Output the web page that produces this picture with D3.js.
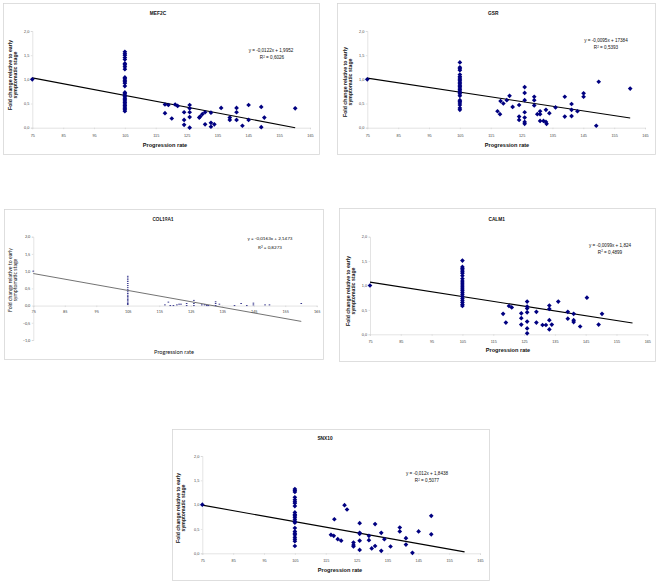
<!DOCTYPE html>
<html>
<head>
<meta charset="utf-8">
<script src="https://cdn.jsdelivr.net/npm/d3@7"></script>
<style>
  body { margin: 0; background: #fff; }
  svg { display: block; }
</style>
</head>
<body>
<svg id="chart" width="660" height="583"></svg>
<script>
// tick values shared by the panels
const xTicks = [75, 85, 95, 105, 115, 125, 135, 145, 155, 165];
const yTicks = [0, 0.5, 1, 1.5, 2];
const yTicksCol = [-1, -0.5, 0, 0.5, 1, 1.5, 2];

// MEF2C
const mef2cColumn = [1.57, 1.53, 1.50, 1.45, 1.41, 1.33, 1.30, 1.26, 1.21, 1.04, 1.01, 0.98, 0.95, 0.92, 0.86,
  0.73, 0.70, 0.67, 0.64, 0.61, 0.58, 0.55, 0.52, 0.49, 0.46, 0.43, 0.40, 0.37, 0.34];
const mef2cPoints = [[75, 1.0], [118, 0.48], [118, 0.30], [119.1, 0.47], [120.2, 0.19], [121.3, 0.48], [122.1, 0.45],
  [124.2, 0.32], [124.2, 0.16], [124.2, 0.06], [126, 0.47], [126, 0.40], [126, 0.32], [126, 0.22], [126, 0.0],
  [129.1, 0.21], [129.4, 0.23], [130.1, 0.28], [131, 0.32], [131, 0.07], [132.9, 0.31], [132.9, 0.10], [132.9, 0.02],
  [134, 0.07], [136.2, 0.41], [139, 0.21], [139, 0.16], [141.2, 0.41], [141.2, 0.32], [141.2, 0.16], [143.1, 0.04],
  [145.1, 0.47], [145.1, 0.16], [149.2, 0.43], [149.2, 0.01], [150.2, 0.21], [160.2, 0.40]];
const mef2cTrend = [[75, 1.03], [160.2, 0.0]];

// GSR
const gsrColumn = [1.35, 1.25, 1.22, 1.19, 1.10, 1.06, 1.03, 1.00, 0.97, 0.94, 0.91, 0.88, 0.85, 0.82, 0.79,
  0.76, 0.73, 0.70, 0.66, 0.57, 0.54, 0.51, 0.47, 0.41, 0.37];
const gsrPoints = [[75, 1.0], [117.2, 0.34], [118, 0.28], [118.2, 0.55], [119.1, 0.50], [120.2, 0.57], [121.1, 0.66],
  [122.1, 0.43], [124.2, 0.47], [124.2, 0.23], [124.2, 0.16], [126, 0.84], [126, 0.72], [126, 0.57], [126, 0.32],
  [126, 0.21], [126, 0.12], [126, 0.08], [129.1, 0.64], [129.1, 0.57], [129.1, 0.46], [130.1, 0.28], [131, 0.34],
  [131, 0.28], [131, 0.14], [132.1, 0.14], [132.9, 0.37], [132.9, 0.12], [133.1, 0.08], [134, 0.30], [136, 0.42],
  [139, 0.64], [139, 0.23], [141.2, 0.49], [141.2, 0.37], [141.2, 0.24], [143.1, 0.34], [145.1, 0.71], [145.1, 0.64],
  [149.2, 0.04], [150, 0.95], [160.2, 0.81]];
const gsrTrend = [[75, 1.026], [160.2, 0.2]];

// COL19A1
const colColumn = [0.85, 0.80, 0.75, 0.70, 0.64, 0.58, 0.52, 0.46, 0.40, 0.35, 0.30, 0.26, 0.22, 0.18, 0.14,
  0.10, 0.06, 0.03];
const colPoints = [[75, 1.0], [116.8, 0.02], [117.9, 0.10], [118.5, 0], [119.5, 0], [120.6, 0.02], [121.3, 0.04],
  [121.9, 0.04], [123.7, 0.06], [123.7, 0], [126, 0.15], [126, 0.06], [126, 0], [128.5, 0.02], [129.4, 0.02],
  [130.1, 0], [130.6, 0], [132.9, 0.11], [132.9, 0.06], [132.9, 0], [134.1, 0.04], [138.9, 0], [141, 0.06],
  [142.8, 0], [144.9, 0.07], [144.9, 0.02], [148.6, 0.02], [150, 0.02], [160.1, 0.06]];
const colTrend = [[75, 0.93], [160.1, -0.46]];

// CALM1
const calm1Column = [1.51, 1.38, 1.35, 1.32, 1.28, 1.25, 1.20, 1.14, 1.09, 1.05, 1.01, 0.97, 0.93, 0.89, 0.85,
  0.81, 0.77, 0.73, 0.69, 0.65, 0.61, 0.58];
const calm1Points = [[75, 1.0], [118.2, 0.42], [119.1, 0.24], [120.1, 0.58], [121, 0.55], [124.1, 0.43], [124.1, 0.33],
  [124.1, 0.20], [126, 0.67], [126, 0.57], [126, 0.53], [126, 0.45], [126, 0.26], [126, 0.12], [126, 0.02],
  [129, 0.46], [129, 0.24], [131, 0.19], [132.1, 0.19], [133.2, 0.59], [133.2, 0.52], [133.2, 0.29], [133.2, 0.10],
  [134, 0.20], [136.1, 0.67], [139.2, 0.46], [139.2, 0.32], [141.1, 0.42], [141.1, 0.29], [141.1, 0.25],
  [143.2, 0.16], [145.4, 0.75], [149.2, 0.20], [150.3, 0.42]];
const calm1Trend = [[75, 1.07], [160.2, 0.23]];

// SNX10
const snx10Column = [1.32, 1.29, 1.26, 1.15, 1.10, 1.06, 1.03, 0.97, 0.84, 0.80, 0.77, 0.74, 0.70, 0.66, 0.63,
  0.52, 0.45, 0.41, 0.38, 0.33, 0.29, 0.25, 0.15];
const snx10Points = [[75, 1.0], [116.7, 0.38], [117.6, 0.36], [117.8, 0.70], [118.9, 0.29], [120, 0.26], [121.1, 0.99],
  [121.9, 0.90], [124, 0.22], [124, 0.17], [124, 0.14], [126, 0.62], [126, 0.42], [126, 0.40], [126, 0.26],
  [126, 0.07], [129, 0.36], [129, 0.27], [129.9, 0.10], [131, 0.60], [131, 0.15], [133, 0.42], [133, 0.05],
  [134, 0.29], [136, 0.14], [139, 0.53], [139, 0.45], [141, 0.31], [141, 0.18], [143.1, 0.01], [145.1, 0.45],
  [149.2, 0.77], [149.2, 0.39]];
const snx10Trend = [[75, 0.99], [160, 0.03]];

const arial = "'Liberation Sans', Arial, sans-serif";
const calibri = "Lato, 'Open Sans', sans-serif";

const panels = [
  { title: 'MEF2C', column: mef2cColumn, points: mef2cPoints, trend: mef2cTrend, yt: yTicks,
    eq: 'y = -0,0122x + 1,9952', r2: '0,6026', font: arial,
    box: [3, 3, 319, 154], x: [32.3, 310], y: [127.7, 31], titleXY: [158, 15],
    eqXY: [271, 52], r2XY: [272, 59], xTitleXY: [165, 146.5], yLab: [10, 15.5, 75], xTickY: 137 },
  { title: 'GSR', column: gsrColumn, points: gsrPoints, trend: gsrTrend, yt: yTicks,
    eq: 'y = -0,0095x + 17384', r2: '0,5393', font: arial,
    box: [337, 3, 655, 154], x: [367.3, 645], y: [127.7, 31], titleXY: [493.3, 15],
    eqXY: [606, 42], r2XY: [606, 49], xTitleXY: [507, 146.5], yLab: [345, 350.5, 82], xTickY: 137 },
  { title: 'COL19A1', column: colColumn, points: colPoints, trend: colTrend, yt: yTicksCol,
    eq: 'y = -0,0163x + 2,1473', r2: '0,8273', font: calibri, small: true,
    box: [4, 209, 323, 359], x: [33.3, 316.7], y: [340, 236.7], titleXY: [163, 221],
    eqXY: [270, 240], r2XY: [270, 249], xTitleXY: [174, 353.5], yLab: [10, 15, 280], xTickY: 313.5 },
  { title: 'CALM1', column: calm1Column, points: calm1Points, trend: calm1Trend, yt: yTicks,
    eq: 'y = -0,0099x + 1,824', r2: '0,4899', font: arial,
    box: [339, 208, 655, 361], x: [370, 647.3], y: [334.3, 236.7], titleXY: [496.7, 221],
    eqXY: [610, 246.5], r2XY: [610, 253.5], xTitleXY: [508, 352], yLab: [348, 353.5, 291], xTickY: 343.5 },
  { title: 'SNX10', column: snx10Column, points: snx10Points, trend: snx10Trend, yt: yTicks,
    eq: 'y = -0,012x + 1,8438', r2: '0,5077', font: arial,
    box: [172, 429, 489, 580], x: [202.3, 480], y: [553.3, 456], titleXY: [325, 440],
    eqXY: [427, 475], r2XY: [427, 482], xTitleXY: [340, 572], yLab: [178.3, 183.8, 508], xTickY: 562 }
];

const svg = d3.select('#chart');
const fmt = v => d3.format('.1f')(v).replace('.', ',');

panels.forEach(p => {
  const g = svg.append('g').style('font-family', p.font);
  const [bx0, by0, bx1, by1] = p.box;

  g.append('rect')
    .attr('x', bx0 + 0.5).attr('y', by0 + 0.5)
    .attr('width', bx1 - bx0).attr('height', by1 - by0)
    .attr('fill', '#fff').attr('stroke', '#d6d6d6').attr('stroke-width', 0.8);

  const x = d3.scaleLinear().domain([75, 165]).range(p.x);
  const y = d3.scaleLinear().domain([d3.min(p.yt), 2]).range(p.y);

  // axes
  const yAxis = g.append('g')
    .attr('transform', `translate(${p.x[0]},0)`)
    .call(d3.axisLeft(y).tickValues(p.yt).tickFormat(fmt).tickSize(1.5).tickPadding(1.5));
  const xAxis = g.append('g')
    .attr('transform', `translate(0,${y(0)})`)
    .call(d3.axisBottom(x).tickValues(xTicks).tickFormat(d3.format('d')).tickSize(1.5).tickPadding(1.5));

  [xAxis, yAxis].forEach(a => {
    a.select('.domain').attr('stroke', '#d0d0d0').attr('stroke-width', 0.6);
    a.selectAll('.tick line').attr('stroke', '#d0d0d0').attr('stroke-width', 0.6);
    a.selectAll('.tick text').attr('fill', '#444').style('font-size', '3.8px').style('font-family', p.font);
  });
  xAxis.selectAll('.tick text').attr('y', null).attr('dy', null)
    .attr('y', p.xTickY - y(0));

  // trend line
  g.append('line')
    .attr('x1', x(p.trend[0][0])).attr('y1', y(p.trend[0][1]))
    .attr('x2', x(p.trend[1][0])).attr('y2', y(p.trend[1][1]))
    .attr('stroke', p.small ? '#444' : '#000')
    .attr('stroke-width', p.small ? 0.75 : 1.1);

  // points
  const all = p.column.map(v => [105, v]).concat(p.points);
  if (p.small) {
    g.selectAll('.pt').data(all).enter().append('rect')
      .attr('class', 'pt')
      .attr('x', d => x(d[0]) - 0.8).attr('y', d => y(d[1]) - 0.5)
      .attr('width', 1.6).attr('height', 1)
      .attr('fill', '#3b3b8f');
  } else {
    const diamond = d3.symbol().type(d3.symbolSquare).size(11);
    g.selectAll('.pt').data(all).enter().append('path')
      .attr('class', 'pt')
      .attr('d', diamond)
      .attr('transform', d => `translate(${x(d[0])},${y(d[1])}) rotate(45)`)
      .attr('fill', '#000080');
  }

  // texts
  g.append('text')
    .attr('x', p.titleXY[0]).attr('y', p.titleXY[1])
    .attr('text-anchor', 'middle')
    .style('font-size', '4.8px').style('font-weight', 'bold').attr('fill', '#111')
    .text(p.title);

  g.append('text')
    .attr('x', p.eqXY[0]).attr('y', p.eqXY[1])
    .attr('text-anchor', 'middle')
    .style('font-size', '4.6px').attr('fill', '#111')
    .text(p.eq);

  const r2 = g.append('text')
    .attr('x', p.r2XY[0]).attr('y', p.r2XY[1])
    .attr('text-anchor', 'middle')
    .style('font-size', '4.6px').attr('fill', '#111');
  r2.append('tspan').text('R');
  r2.append('tspan').attr('dy', -1.5).style('font-size', '3px').text('2');
  r2.append('tspan').attr('dy', 1.5).text(' = ' + p.r2);

  g.append('text')
    .attr('x', p.xTitleXY[0]).attr('y', p.xTitleXY[1])
    .attr('text-anchor', 'middle')
    .style('font-size', '5.6px').style('font-weight', p.small ? 'normal' : 'bold').attr('fill', '#111')
    .text('Progression rate');

  const yl = g.append('text')
    .attr('transform', `translate(${p.yLab[0]},${p.yLab[2]}) rotate(-90)`)
    .attr('text-anchor', 'middle')
    .style('font-size', '5.2px').style('font-weight', p.small ? 'normal' : 'bold').attr('fill', '#111');
  yl.append('tspan').attr('x', 0).attr('y', 1.5).text('Fold change relative to early');
  yl.append('tspan').attr('x', 0).attr('y', 1.5 + (p.yLab[1] - p.yLab[0])).text('symptomatic stage');
});
</script>
</body>
</html>
